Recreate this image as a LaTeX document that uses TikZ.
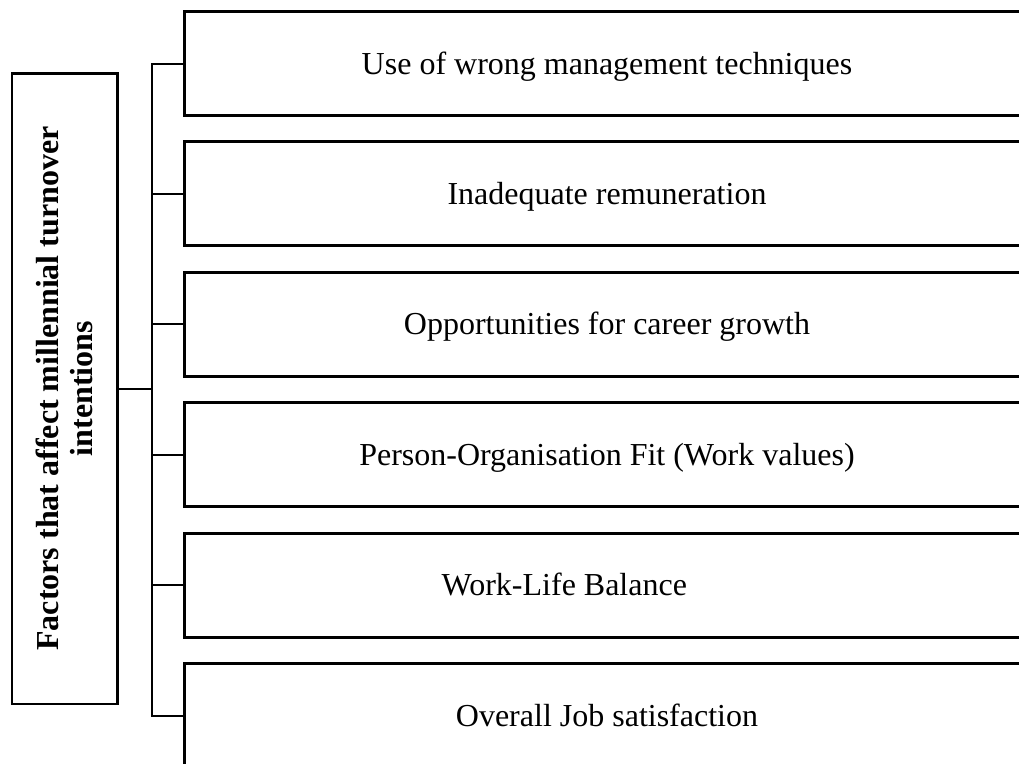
\documentclass[tikz,border=0pt]{standalone}
\usepackage{fontspec}
\setmainfont{Liberation Serif}
\usetikzlibrary{positioning}

\begin{document}
\begin{tikzpicture}[x=0.375pt,y=-0.375pt,
  factorbox/.style={draw, line width=1.1pt, minimum width=317pt, minimum height=39pt, inner sep=0pt, text height=7.9pt, text depth=0pt, font=\fontsize{12}{14}\selectfont},
  headbox/.style={draw, line width=1.1pt, rotate=90, minimum width=236.6pt, minimum height=39.4pt, inner sep=0pt, align=center, font=\fontsize{12}{12.75}\selectfont\bfseries},
  link/.style={line width=0.75pt}]
\path[use as bounding box, clip] (0,0) rectangle (1019,764);
% heading on the left
\node[headbox] (factors) at (64.5,388.5) {Factors that affect millennial turnover\\ intentions};
% the six factors
\node[factorbox] (box1) at (607,63.5) {Use of wrong management techniques};
\node[factorbox, below=8.8pt of box1] (box2) {Inadequate remuneration};
\node[factorbox, below=8.8pt of box2] (box3) {Opportunities for career growth};
\node[factorbox, below=8.8pt of box3] (box4) {Person-Organisation Fit (Work values)};
\node[factorbox, below=8.8pt of box4] (box5) {Work-Life Balance\hspace*{32pt}};
\node[factorbox, below=8.8pt of box5] (box6) {Overall Job satisfaction};
% bracket joining them
\coordinate (bus) at (152,0);
\draw[link] (box1.west) -- (box1.west -| bus) -- (box6.west -| bus) -- (box6.west);
\foreach \i in {2,...,5}
  \draw[link] (box\i.west) -- (box\i.west -| bus);
\draw[link] (factors.south) -- (factors.south -| bus);
\end{tikzpicture}
\end{document}
